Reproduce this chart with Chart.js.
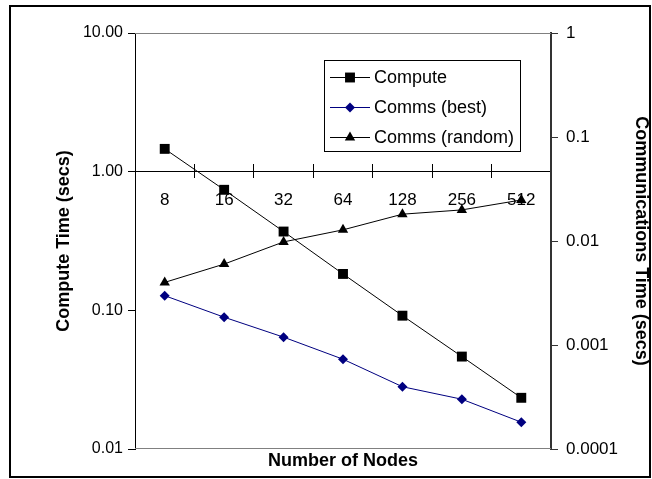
<!DOCTYPE html>
<html><head><meta charset="utf-8">
<script src="https://cdn.jsdelivr.net/npm/chart.js@4"></script>
<style>html,body{margin:0;padding:0;background:#fff}#wrap{width:652px;height:479px;position:relative}</style>
</head><body><div id="wrap"><canvas id="c" width="652" height="479"></canvas></div>
<script>
const categories = ['8', '16', '32', '64', '128', '256', '512'];
const computeTime = [1.46, 0.74, 0.37, 0.183, 0.0915, 0.0464, 0.0234];
const commsBest = [0.00298, 0.00185, 0.00119, 0.00073, 0.000397, 0.000301, 0.000181];
const commsRandom = [0.0040, 0.0060, 0.0098, 0.0128, 0.0181, 0.0199, 0.0248];
const leftTicks = [0.01, 0.1, 1, 10];
const leftTickLabels = ['0.01', '0.10', '1.00', '10.00'];
const rightTicks = [0.0001, 0.001, 0.01, 0.1, 1];
const rightTickLabels = ['0.0001', '0.001', '0.01', '0.1', '1'];
const seriesNames = ['Compute', 'Comms (best)', 'Comms (random)'];

const FONT = '"Liberation Sans", Arial, sans-serif';
Chart.defaults.font.family = FONT;
Chart.defaults.color = '#000';

function labelFor(ticks, labels, v) {
  for (let i = 0; i < ticks.length; i++) {
    if (Math.abs(Math.log10(v) - Math.log10(ticks[i])) < 1e-6) return labels[i];
  }
  return '';
}

const framePlugin = {
  id: 'frame',
  beforeDraw(chart) {
    const ctx = chart.ctx;
    ctx.save();
    ctx.fillStyle = '#fff';
    ctx.fillRect(0, 0, chart.width, chart.height);
    ctx.strokeStyle = '#000';
    ctx.lineWidth = 2;
    ctx.strokeRect(10, 6, 640, 471);
    ctx.restore();
  },
  beforeDatasetsDraw(chart) {
    const a = chart.chartArea, ctx = chart.ctx;
    ctx.save();
    ctx.strokeStyle = '#808080';
    ctx.lineWidth = 1;
    ctx.beginPath();
    ctx.moveTo(a.left, a.top + 0.5); ctx.lineTo(a.right, a.top + 0.5);
    ctx.moveTo(a.left, a.bottom - 0.5); ctx.lineTo(a.right, a.bottom - 0.5);
    ctx.stroke();
    ctx.restore();
  }
};

function drawMarker(ctx, style, x, y, r, color) {
  ctx.fillStyle = color;
  ctx.beginPath();
  if (style === 'rect') {
    const s = r * Math.SQRT1_2;
    ctx.rect(x - s, y - s, 2 * s, 2 * s);
  } else if (style === 'rectRot') {
    ctx.moveTo(x - r, y); ctx.lineTo(x, y - r); ctx.lineTo(x + r, y); ctx.lineTo(x, y + r);
    ctx.closePath();
  } else if (style === 'triangle') {
    let rad = 0;
    ctx.moveTo(x + Math.sin(rad) * r, y - Math.cos(rad) * r);
    rad += 2 * Math.PI / 3;
    ctx.lineTo(x + Math.sin(rad) * r, y - Math.cos(rad) * r);
    rad += 2 * Math.PI / 3;
    ctx.lineTo(x + Math.sin(rad) * r, y - Math.cos(rad) * r);
    ctx.closePath();
  }
  ctx.fill();
}

const legendPlugin = {
  id: 'boxLegend',
  afterDraw(chart) {
    const ctx = chart.ctx;
    ctx.save();
    ctx.fillStyle = '#fff';
    ctx.fillRect(324, 60, 196, 91);
    ctx.strokeStyle = '#000';
    ctx.lineWidth = 1;
    ctx.strokeRect(324.5, 60.5, 196, 91);
    ctx.font = '18px ' + FONT;
    ctx.textBaseline = 'middle';
    ctx.textAlign = 'left';
    chart.data.datasets.forEach((ds, i) => {
      const y = 77 + i * 30;
      ctx.strokeStyle = ds.borderColor;
      ctx.lineWidth = 1;
      ctx.beginPath();
      ctx.moveTo(330, y + 0.5); ctx.lineTo(370, y + 0.5);
      ctx.stroke();
      drawMarker(ctx, ds.pointStyle, 350, y + 0.5, ds.pointRadius, ds.pointBackgroundColor);
      ctx.fillStyle = '#000';
      ctx.fillText(ds.label, 374, y + 1);
    });
    ctx.restore();
  }
};

new Chart(document.getElementById('c'), {
  type: 'line',
  data: {
    labels: categories,
    datasets: [
      { label: seriesNames[0], data: computeTime, yAxisID: 'y', xAxisID: 'x',
        borderColor: '#000', borderWidth: 1, pointStyle: 'rect', pointRadius: 7,
        pointBackgroundColor: '#000', pointBorderColor: '#000', pointBorderWidth: 0, tension: 0 },
      { label: seriesNames[1], data: commsBest, yAxisID: 'y2', xAxisID: 'x',
        borderColor: '#000080', borderWidth: 1, pointStyle: 'rectRot', pointRadius: 5,
        pointBackgroundColor: '#000080', pointBorderColor: '#000080', pointBorderWidth: 0, tension: 0 },
      { label: seriesNames[2], data: commsRandom, yAxisID: 'y2', xAxisID: 'x',
        borderColor: '#000', borderWidth: 1, pointStyle: 'triangle', pointRadius: 6,
        pointBackgroundColor: '#000', pointBorderColor: '#000', pointBorderWidth: 0, tension: 0 }
    ]
  },
  options: {
    responsive: false,
    animation: false,
    devicePixelRatio: 1,
    layout: { padding: { left: 0, right: 0, top: 33, bottom: 0 } },
    plugins: { legend: { display: false }, tooltip: { enabled: false }, title: { display: false } },
    scales: {
      x: {
        type: 'category', position: { y: 1 }, offset: true,
        grid: { display: true, drawOnChartArea: false, offset: true, tickLength: 6, color: '#000', tickWidth: 1 },
        border: { display: true, color: '#000', width: 1 },
        ticks: { font: { size: 17 }, padding: 12, color: '#000', maxRotation: 0, autoSkip: false }
      },
      xt: {
        type: 'category', position: { y: 1 }, offset: true,
        grid: { display: true, drawOnChartArea: false, offset: true, tickLength: -8, color: '#000' },
        border: { display: false },
        ticks: { display: false }
      },
      xb: {
        type: 'category', position: 'bottom', offset: true,
        grid: { display: false, drawTicks: false },
        border: { display: false },
        ticks: { display: false },
        title: { display: true, text: 'Number of Nodes', font: { size: 18, weight: 'bold' }, color: '#000', padding: { top: 0, bottom: 7 } },
        afterFit(s) { s.height = 30; }
      },
      y: {
        type: 'logarithmic', position: 'left', min: 0.01, max: 10,
        afterBuildTicks(s) { s.ticks = leftTicks.map(v => ({ value: v })); },
        grid: { display: true, drawOnChartArea: false, tickLength: 7, color: '#000' },
        border: { display: true, color: '#000', width: 1 },
        ticks: { font: { size: 16 }, padding: 5, color: '#000', callback: v => labelFor(leftTicks, leftTickLabels, v) },
        title: { display: true, text: 'Compute Time (secs)', font: { size: 18, weight: 'bold' }, color: '#000', padding: { top: 53, bottom: 0 } },
        afterFit(s) { s.width = 135; }
      },
      y2: {
        type: 'logarithmic', position: 'right', min: 0.0001, max: 1,
        afterBuildTicks(s) { s.ticks = rightTicks.map(v => ({ value: v })); },
        grid: { display: true, drawOnChartArea: false, tickLength: 7, color: '#333' },
        border: { display: true, color: '#333', width: 2 },
        ticks: { font: { size: 17 }, padding: 8, color: '#000', callback: v => labelFor(rightTicks, rightTickLabels, v) },
        title: { display: true, text: 'Communications Time (secs)', font: { size: 18, weight: 'bold' }, color: '#000', padding: { top: 0, bottom: 0 } },
        afterFit(s) { s.width = 101; }
      }
    }
  },
  plugins: [framePlugin, legendPlugin]
});
</script>
</body></html>
